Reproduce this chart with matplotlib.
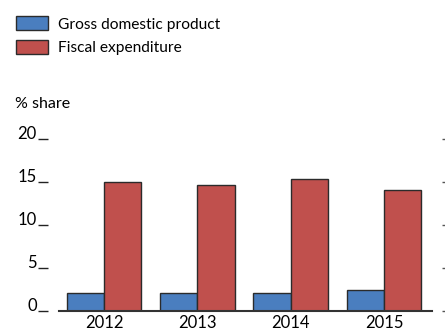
import numpy as np
import matplotlib
matplotlib.use('Agg')
import matplotlib.pyplot as plt

plt.rcParams['font.family'] = ['Lato', 'DejaVu Sans']

# data
years = ['2012', '2013', '2014', '2015']
gdp = [2.1, 2.1, 2.1, 2.4]
fiscal = [15.0, 14.7, 15.3, 14.1]
yticks = [0, 5, 10, 15, 20]

blue = '#4a7ebf'
red = '#c0504d'
edge = '#2b2b2b'

fig = plt.figure(figsize=(4.45, 3.34), dpi=100)
ax = fig.add_axes([0.1333, 0.0689, 0.8367, 0.5151])

x = np.arange(len(years))
w = 0.4
ax.bar(x - w / 2, gdp, w, color=blue, edgecolor=edge, linewidth=1.0,
       label='Gross domestic product', zorder=2)
ax.bar(x + w / 2, fiscal, w, color=red, edgecolor=edge, linewidth=1.0,
       label='Fiscal expenditure', zorder=2)

ax.set_xlim(-0.48, 3.51)
ax.set_ylim(0, 20)

# spines (outward offsets are in points)
ax.spines['top'].set_visible(False)
ax.spines['right'].set_visible(False)
ax.spines['bottom'].set_color('#333333')
ax.spines['bottom'].set_linewidth(1.5)
ax.spines['left'].set_position(('outward', 8))
ax.spines['left'].set_visible(False)

ax.set_yticks(yticks)
ax.set_yticklabels([str(t) for t in yticks], va='baseline')
ax.tick_params(axis='y', direction='out', length=7.2, width=1,
               color='#222222', labelsize=12, pad=1)

ax.set_xticks(x)
ax.set_xticklabels(years)
ax.tick_params(axis='x', length=0, labelsize=12, pad=3)

# small dashes on the right side
ax2 = ax.twinx()
ax2.set_ylim(0, 20)
ax2.set_yticks(yticks)
ax2.set_yticklabels([])
for s in ['top', 'bottom', 'left', 'right']:
    ax2.spines[s].set_visible(False)
ax2.spines['right'].set_position(('outward', 7.2))
ax2.tick_params(axis='y', direction='out', length=4, width=1,
                color='#555555')

fig.text(0.034, 0.69, '% share', fontsize=11.5, va='center', ha='left')

fig.legend(loc='upper left', bbox_to_anchor=(0.037, 0.951), frameon=False,
           fontsize=11.2, handlelength=2.0, handleheight=1.0,
           handletextpad=0.7, labelspacing=0.55, borderaxespad=0,
           borderpad=0)

fig.savefig('out.png', dpi=100)
